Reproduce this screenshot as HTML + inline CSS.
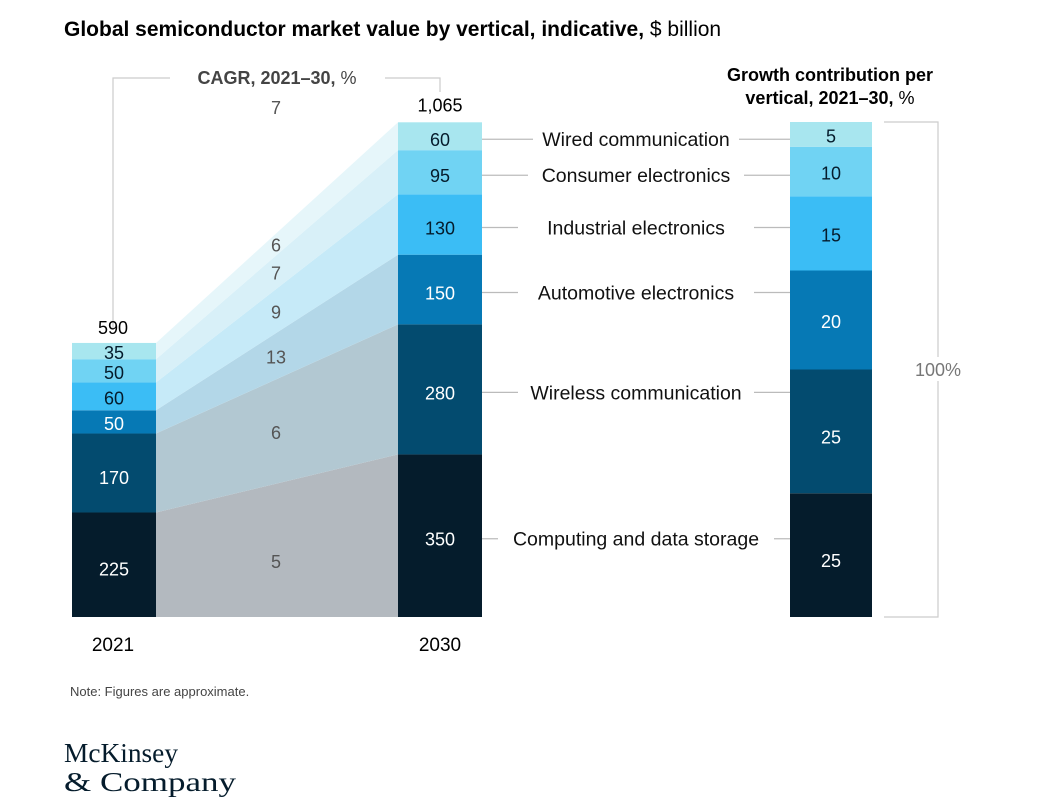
<!DOCTYPE html>
<html><head><meta charset="utf-8"><style>
body{margin:0;background:#fff;width:1045px;height:802px;overflow:hidden}
svg text{font-family:"Liberation Sans",sans-serif}
</style></head><body>
<svg id="c" width="1045" height="802">
<text x="64" y="36" font-size="21" fill="#000"><tspan font-weight="bold">Global semiconductor market value by vertical, indicative,</tspan> $ billion</text>
<path d="M113,330 V78 H170 M385,78 H440 V92" fill="none" stroke="#ccc" stroke-width="1.2"/>
<text x="277" y="84" font-size="18" text-anchor="middle" fill="#444"><tspan font-weight="bold">CAGR, 2021–30,</tspan> %</text>
<text x="830" y="81" font-size="18" font-weight="bold" text-anchor="middle" fill="#000">Growth contribution per</text>
<text x="830" y="104" font-size="18" text-anchor="middle" fill="#000"><tspan font-weight="bold">vertical, 2021–30,</tspan> %</text>
<g id="g"></g>
<path d="M884,122 H938 V617 H884" fill="none" stroke="#ccc" stroke-width="1.2"/>
<rect x="908" y="357" width="60" height="24" fill="#fff"/>
<text x="938" y="376" font-size="18" text-anchor="middle" fill="#777">100%</text>
<text x="113" y="651" font-size="19" text-anchor="middle" fill="#000">2021</text>
<text x="440" y="651" font-size="19" text-anchor="middle" fill="#000">2030</text>
<text x="70" y="696" font-size="13" fill="#444">Note: Figures are approximate.</text>
<text x="64" y="762" font-size="27" textLength="114" lengthAdjust="spacingAndGlyphs" fill="#051c2c" style="font-family:'Liberation Serif',serif">McKinsey</text>
<text x="64" y="791" font-size="27" textLength="172" lengthAdjust="spacingAndGlyphs" fill="#051c2c" style="font-family:'Liberation Serif',serif">&amp; Company</text>
</svg>
<script>
const categories=["Computing and data storage","Wireless communication","Automotive electronics","Industrial electronics","Consumer electronics","Wired communication"];
const values2021=[225,170,50,60,50,35];
const values2030=[350,280,150,130,95,60];
const cagr=[5,6,13,9,7,6];
const totalCagr=7;
const growthShare=[25,25,20,15,10,5];
const colors=["#051c2c","#034b6f","#0679b5","#3bbdf5","#70d3f3","#a8e6ef"];
const bandColors=["#b3b9bf","#b2c8d2","#b3d7e8","#c6eaf8","#d8f0f8","#e6f6fa"];
const whiteText=[true,true,true,false,false,false];
const NS="http://www.w3.org/2000/svg",g=document.getElementById("g");
const base=617,k=0.4645,gk=495/100;
const y=v=>base-v*k, gy=v=>base-v*gk;
function el(t,a,txt){const e=document.createElementNS(NS,t);for(const n in a)e.setAttribute(n,a[n]);if(txt!==undefined)e.textContent=txt;g.appendChild(e);return e;}
let c1=0,c2=0,cg=0;
const x1=72,x2=398,w=84,gx=790,gw=82;
for(let i=0;i<categories.length;i++){
  const a0=c1,a1=c1+values2021[i],b0=c2,b1=c2+values2030[i],g0=cg,g1=cg+growthShare[i];
  let e=el("polygon",{points:`${x1+w},${y(a0)} ${x2},${y(b0)} ${x2},${y(b1)} ${x1+w},${y(a1)}`,fill:bandColors[i]});
  
  
  const my=(y((a0+a1)/2)+y((b0+b1)/2))/2;
  e=el("text",{x:276,y:my+8+(i===0?10:0),"font-size":18,"text-anchor":"middle",fill:"#555"},cagr[i]);
  
  
  const tc=whiteText[i]?"#fff":"#051c2c";
  e=el("rect",{x:x1,y:y(a1),width:w,height:y(a0)-y(a1),fill:colors[i]});
  
  
  e=el("text",{x:x1+w/2,y:(y(a0)+y(a1))/2+(i<2?11:8),"font-size":18,"text-anchor":"middle",fill:tc},values2021[i]);
  
  
  e=el("rect",{x:x2,y:y(b1),width:w,height:y(b0)-y(b1),fill:colors[i]});
  
  
  const bm=(y(b0)+y(b1))/2+3;
  e=el("text",{x:x2+w/2,y:bm+7,"font-size":18,"text-anchor":"middle",fill:tc},values2030[i]);
  
  
  e=el("rect",{x:gx,y:gy(g1),width:gw,height:gy(g0)-gy(g1),fill:colors[i]});
  
  
  const gm=(gy(g0)+gy(g1))/2;
  e=el("text",{x:gx+gw/2,y:gm+(i<2?12:8),"font-size":18,"text-anchor":"middle",fill:tc},growthShare[i]);
  
  
  e=el("line",{x1:x2+w,y1:bm,x2:gx,y2:bm,stroke:"#bbb","stroke-width":1.2});
  
  
  const tw=categories[i].length*10+16;
  e=el("rect",{x:636-tw/2,y:bm-14,width:tw,height:28,fill:"#fff"});
  e=el("text",{x:636,y:bm+7,"font-size":19.5,"text-anchor":"middle",fill:"#111"},categories[i]);
  
  
  c1=a1;c2=b1;cg=g1;
}
let e=el("text",{x:113,y:y(c1)-9,"font-size":18,"text-anchor":"middle",fill:"#000"},values2021.reduce((s,v)=>s+v,0));


e=el("text",{x:440,y:y(c2)-11,"font-size":18,"text-anchor":"middle",fill:"#000"},values2030.reduce((s,v)=>s+v,0).toLocaleString("en-US"));


e=el("text",{x:276,y:114,"font-size":18,"text-anchor":"middle",fill:"#555"},totalCagr);


</script>
</body></html>
